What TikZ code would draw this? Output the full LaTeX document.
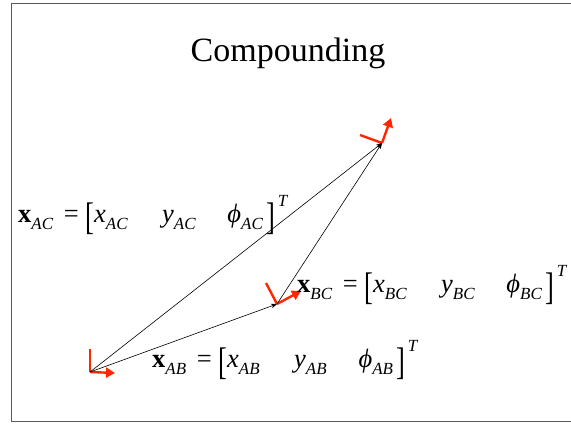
\documentclass[tikz,border=0pt]{standalone}
\usepackage{fontspec}
\usepackage{graphicx}
\setmainfont{Liberation Serif}
\usetikzlibrary{arrows.meta}
\definecolor{axred}{RGB}{255,38,0}
\definecolor{framegray}{RGB}{90,90,90}
\newcommand{\eqsub}[1]{\raisebox{-0.3em}{\fontsize{17}{17}\selectfont\itshape #1}}
\newcommand{\tallbr}[1]{\raisebox{-0.27em}{\scalebox{1}[1.45]{#1}}}
\newcommand{\poseq}[1]{\fontsize{26.5}{26.5}\selectfont\textbf{x}\eqsub{#1}\hspace{0.4em}=\hspace{0.25em}\tallbr{[}\textit{x}\eqsub{#1}\hspace{1.3em}\textit{y}\eqsub{#1}\hspace{1.2em}\textit{\symbol{"03D5}}\eqsub{#1}\hspace{0.15em}\tallbr{]}\hspace{0.08em}\raisebox{0.6em}{\fontsize{17}{17}\selectfont\itshape T}}
\tikzset{
  axis line/.style={draw=axred, line width=2.4pt},
  axis arrow/.style={draw=axred, line width=2.4pt, -{Triangle[length=9pt,width=10pt]}},
  pose arrow/.style={draw=black, line width=0.6pt, -{Stealth[length=6pt,width=4.5pt]}},
  eqlabel/.style={inner sep=0pt, anchor=base west},
}
\begin{document}
\begin{tikzpicture}[x=1pt,y=-1pt]
\useasboundingbox (0,0) rectangle (571,424);
% frame
\draw[framegray, line width=0.8pt] (572,3) -- (11,3) -- (11,421) -- (572,421);
% title
\node[anchor=base, inner sep=0pt, font=\fontsize{34}{34}\selectfont] (title) at (288,61) {Compounding};
% poses
\coordinate (A) at (90,372);
\coordinate (B) at (277,304);
\coordinate (C) at (382,143);
% frame axes
\coordinate (Ay) at (90,349);
\coordinate (Ax) at (115,373);
\coordinate (By) at (266,283);
\coordinate (Bx) at (301,291);
\coordinate (Cy) at (360,135);
\coordinate (Cx) at (391,118);
\draw[axis line] (A) -- (Ay);
\draw[axis arrow] (A) -- (Ax);
\draw[axis line] (B) -- (By);
\draw[axis arrow] (B) -- (Bx);
\draw[axis line] (C) -- (Cy);
\draw[axis arrow] (C) -- (Cx);
% relative transforms
\draw[pose arrow] (A) -- (B);
\draw[pose arrow] (A) -- (C);
\draw[pose arrow] (B) -- (C);
% labels
\node[eqlabel] (eqAC) at (18,222) {\poseq{AC}};
\node[eqlabel] (eqBC) at (297,292) {\poseq{BC}};
\node[eqlabel] (eqAB) at (152,367) {\poseq{AB}};
\end{tikzpicture}
\end{document}
